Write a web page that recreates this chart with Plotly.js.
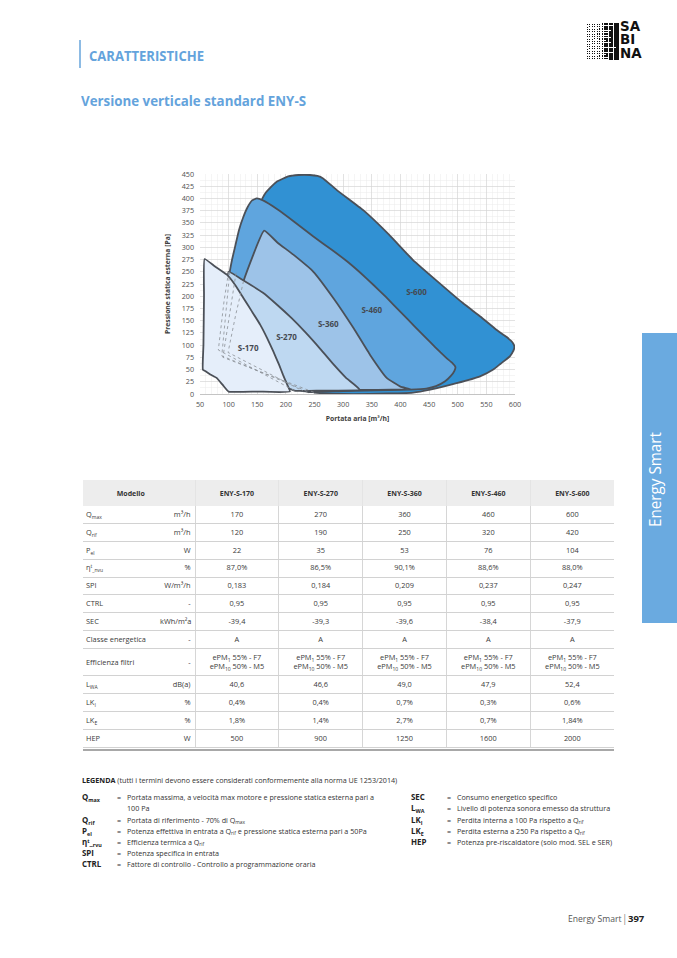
<!DOCTYPE html>
<html><head><meta charset="utf-8">
<script src="https://cdn.plot.ly/plotly-3.0.1.min.js"></script>
<style>
body{margin:0;background:#fff;}
#page{position:relative;width:677px;height:958px;overflow:hidden;font-family:'Open Sans',sans-serif;color:#333;background:#fff;}
.abs{position:absolute;white-space:nowrap;line-height:1;}
.lg{position:absolute;white-space:nowrap;line-height:11px;color:#333;}
.lg sub,#tbl sub{font-size:68%;vertical-align:-0.3em;line-height:0;}
.lg sup,#tbl sup{font-size:68%;vertical-align:0.45em;line-height:0;}
.term{font-weight:700;color:#222;}
#tbl{position:absolute;left:83px;top:480px;width:531px;border-collapse:collapse;table-layout:fixed;font-family:'Open Sans',sans-serif;font-size:7.4px;color:#3a3a3a;}
#tbl th{background:#ededed;font-weight:700;font-size:7px;color:#333;border-left:1px solid #e4e4e4;padding:0;height:26px;}
#tbl td{padding:0;border-bottom:1px solid #d2d2d2;text-align:center;line-height:1.25;}
#tbl td.v{border-left:1px solid #d6d6d6;}
#tbl td.lab{text-align:left;padding-left:3px;}
#tbl td.unit{text-align:right;padding-right:4px;}
#tbl tr.r td{height:16.9px;}
#tbl tr.tall td{height:26px;}
</style></head><body><div id="page">

<div class="abs" style="left:79px;top:40px;width:1.6px;height:28px;background:#8dbbe4;"></div>
<div class="abs hd" id="h1" data-w="115" style="left:89px;top:48px;font-size:15px;font-weight:700;color:#64a3dc;">CARATTERISTICHE</div>
<div class="abs hd" id="h2" data-w="225" style="left:81px;top:94px;font-size:14.5px;font-weight:700;color:#64a3dc;">Versione verticale standard ENY-S</div>

<div id="logo" class="abs" style="left:586px;top:20px;width:64px;height:42px;"></div>

<div class="abs" style="left:642px;top:333px;width:35px;height:290px;background:#6aaae0;"></div>
<div class="abs hd" id="side" data-w="95" style="left:647px;top:527px;font-size:16.5px;color:#fff;transform-origin:left top;">Energy Smart</div>

<div id="chart" class="abs" style="left:150px;top:160px;width:390px;height:270px;"></div>
<table id="tbl"></table>
<div class="abs" style="left:83px;top:749px;width:531px;height:2px;background:#a8a8a8;"></div>

<div id="legend"></div>

<div class="abs" style="left:568px;top:915px;font-size:8.6px;color:#555;">Energy Smart</div>
<div class="abs" style="left:622px;top:913px;font-size:10px;color:#888;">|</div>
<div class="abs" style="left:628px;top:914px;font-size:9.5px;font-weight:700;color:#222;">397</div>
</div>
<script>
// ---------- chart data ----------
const s600X = [159,165,172,185,204,222,242,255,265,290,335,380,422,465,509,540,568,585,596,599,597,591,575,562,539,498,452,422,380,300,250,160,90,100,113,135,159];
const s600Y = [400,412,421,435,445,448,448,446,441,416,376,326,274,230,186,158,131,117,105,97,88,77,62,50,36,22,9,3,1,0,3,35,75,150,248,330,400];
const s460X = [149,160,185,215,248,280,306,330,353,375,400,425,452,470,481,490,496,494,488,478,462,445,417,300,240,170,88,95,102,106,112,118,125,133,141,149];
const s460Y = [400,396,378,352,322,295,272,248,223,198,168,138,106,85,73,64,55,47,37,26,16,11,9,6,4,30,78,160,250,275,305,335,360,382,396,400];
const s360X = [162,185,213,248,283,318,347,376,400,417,300,230,99,112,126,162];
const s360Y = [334,310,285,250,196,135,80,33,15,10,8,6,85,160,231,334];
const s270X = [100,126,160,185,210,235,258,282,305,329,260,215,82,92,100];
const s270Y = [250,232,207,182,155,125,95,62,33,9,7,7,90,190,250];
const s170X = [58,75,97,112,126,140,155,167,178,188,195,202,207,150,100,90,79,68,59,55,56,57,58];
const s170Y = [276,262,244,222,196,170,142,115,87,60,39,20,5,5,5,18,33,40,47,50,100,200,276];
// hidden (dashed) boundaries
const hid270X = [100,92,82,215], hid270Y = [250,190,90,7];
const hid360X = [126,112,99,230], hid360Y = [231,160,85,6];
const hid460X = [102,95,88,240], hid460Y = [250,160,78,4];
const hid600X = [113,100,90,250], hid600Y = [248,150,75,3];
const seriesNames = ['S-600','S-460','S-360','S-270','S-170'];
const labelX = [428,350,274,201,134];
const labelY = [206,169,142,114,92];

// ---------- table data ----------
const models = ['ENY-S-170','ENY-S-270','ENY-S-360','ENY-S-460','ENY-S-600'];
const rowLabels = ['Q<sub>max</sub>','Q<sub>rif</sub>','P<sub>el</sub>','η<sup>t</sup><sub>_nvu</sub>','SPI','CTRL','SEC','Classe energetica','Efficienza filtri','L<sub>WA</sub>','LK<sub>I</sub>','LK<sub>E</sub>','HEP'];
const units = ['m³/h','m³/h','W','%','W/m³/h','-','kWh/m²a','-','-','dB(a)','%','%','W'];
const qmax = ['170','270','360','460','600'];
const qrif = ['120','190','250','320','420'];
const pel = ['22','35','53','76','104'];
const eta = ['87,0%','86,5%','90,1%','88,6%','88,0%'];
const spi = ['0,183','0,184','0,209','0,237','0,247'];
const ctrl = ['0,95','0,95','0,95','0,95','0,95'];
const sec = ['-39,4','-39,3','-39,6','-38,4','-37,9'];
const classe = ['A','A','A','A','A'];
const filtri = ['ePM<sub>1</sub> 55% - F7<br>ePM<sub>10</sub> 50% - M5','ePM<sub>1</sub> 55% - F7<br>ePM<sub>10</sub> 50% - M5','ePM<sub>1</sub> 55% - F7<br>ePM<sub>10</sub> 50% - M5','ePM<sub>1</sub> 55% - F7<br>ePM<sub>10</sub> 50% - M5','ePM<sub>1</sub> 55% - F7<br>ePM<sub>10</sub> 50% - M5'];
const lwa = ['40,6','46,6','49,0','47,9','52,4'];
const lki = ['0,4%','0,4%','0,7%','0,3%','0,6%'];
const lke = ['1,8%','1,4%','2,7%','0,7%','1,84%'];
const hep = ['500','900','1250','1600','2000'];

// ---------- legend texts ----------
const legLeft = [
 ['Q<sub>max</sub>','Portata massima, a velocità max motore e pressione statica esterna pari a'],
 ['','100 Pa'],
 ['Q<sub>rif</sub>','Portata di riferimento - 70% di Q<sub>max</sub>'],
 ['P<sub>el</sub>','Potenza effettiva in entrata a Q<sub>rif</sub> e pressione statica esterna pari a 50Pa'],
 ['η<sup>t</sup>_<sub>rvu</sub>','Efficienza termica a Q<sub>rif</sub>'],
 ['SPI','Potenza specifica in entrata'],
 ['CTRL','Fattore di controllo - Controllo a programmazione oraria']
];
const legRight = [
 ['SEC','Consumo energetico specifico'],
 ['L<sub>WA</sub>','Livello di potenza sonora emesso da struttura'],
 ['LK<sub>I</sub>','Perdita interna a 100 Pa rispetto a Q<sub>rif</sub>'],
 ['LK<sub>E</sub>','Perdita esterna a 250 Pa rispetto a Q<sub>rif</sub>'],
 ['HEP','Potenza pre-riscaldatore (solo mod. SEL e SER)']
];
const legRowsY = [798,809,821,832,843,854,865];

// ---------- chart ----------
const fills = ['#3191d3','#5fa5de','#9dc3e8','#bed8f1','#e5eefa'];
const polys = [[s600X,s600Y],[s460X,s460Y],[s360X,s360Y],[s270X,s270Y],[s170X,s170Y]];
const traces = polys.map((p,i)=>({type:'scatter',mode:'lines',x:p[0],y:p[1],fill:'toself',fillcolor:fills[i],
  line:{color:'#4b5058',width:1.8,shape:'spline',smoothing:0.35},name:seriesNames[i],hoverinfo:'skip'}));
[[hid270X,hid270Y],[hid360X,hid360Y],[hid460X,hid460Y],[hid600X,hid600Y]].forEach(h=>{
  traces.push({type:'scatter',mode:'lines',x:h[0],y:h[1],line:{color:'#8a8f96',width:0.8,dash:'dot'},hoverinfo:'skip'});
});
traces.push({type:'scatter',mode:'text',x:labelX,y:labelY,text:seriesNames,
  textfont:{family:'Open Sans',size:8,color:'#454a52',weight:700},hoverinfo:'skip'});

const axFont = {family:'Open Sans',size:7.2,color:'#505050'};
Plotly.newPlot('chart',traces,{
  width:390,height:270,margin:{l:50,r:25,t:14,b:36},
  paper_bgcolor:'rgba(0,0,0,0)',plot_bgcolor:'#fff',showlegend:false,
  xaxis:{range:[50,600],tick0:50,dtick:50,showgrid:true,gridcolor:'#d6d6d6',gridwidth:0.7,
    minor:{dtick:10,showgrid:true,gridcolor:'#ececec',gridwidth:0.5},
    zeroline:false,showline:true,linecolor:'#c4c4c4',linewidth:1,ticks:'',tickfont:axFont,fixedrange:true,ticklabelstandoff:3,
    title:{text:'<b>Portata aria [m³/h]</b>',font:{family:'Open Sans',size:6.8,color:'#404040'},standoff:8}},
  yaxis:{range:[0,450],tick0:0,dtick:25,showgrid:true,gridcolor:'#d6d6d6',gridwidth:0.7,
    minor:{dtick:12.5,showgrid:true,gridcolor:'#ececec',gridwidth:0.5},
    zeroline:false,showline:false,ticks:'',tickfont:axFont,fixedrange:true,ticklabelstandoff:5,
    title:{text:'<b>Pressione statica esterna [Pa]</b>',font:{family:'Open Sans',size:6.8,color:'#404040'},standoff:10}}
},{displayModeBar:false,staticPlot:true});

// ---------- table (built from the arrays) ----------
const valueRows = [qmax,qrif,pel,eta,spi,ctrl,sec,classe,filtri,lwa,lki,lke,hep];
const tbl = document.getElementById('tbl');
let html = '<colgroup><col style="width:77px"><col style="width:35px">'+models.map(()=>'<col style="width:83.8px">').join('')+'</colgroup>';
html += '<tr><th colspan="2" style="border-left:none;padding-right:16px;">Modello</th>'+models.map(m=>'<th>'+m+'</th>').join('')+'</tr>';
valueRows.forEach((r,i)=>{
  const cls = r===filtri ? 'tall' : 'r';
  html += '<tr class="'+cls+'"><td class="lab">'+rowLabels[i]+'</td><td class="unit">'+units[i]+'</td>'+r.map(v=>'<td class="v">'+v+'</td>').join('')+'</tr>';
});
tbl.innerHTML = html;

// ---------- legend ----------
const leg = document.getElementById('legend');
function addDiv(html,x,y,cls){
  const d=document.createElement('div');d.className='lg '+(cls||'');d.innerHTML=html;
  d.style.left=x+'px';d.style.top=(y-6)+'px';leg.appendChild(d);return d;}
const legEls=[]; let pelDesc=null;
legEls.push(addDiv('<span class="term">LEGENDA</span> (tutti i termini devono essere considerati conformemente alla norma UE 1253/2014)',82,781));
legLeft.forEach((r,i)=>{const y=legRowsY[i];
  if(r[0]){legEls.push(addDiv(r[0],82,y,'term'));legEls.push(addDiv('=',117,y));}
  const d=addDiv(r[1],127,y); legEls.push(d); if(i===3) pelDesc=d;});
legRight.forEach((r,i)=>{const y=legRowsY[i];
  legEls.push(addDiv(r[0],411,y,'term'));legEls.push(addDiv('=',447,y));
  legEls.push(addDiv(r[1],457,y));});

// ---------- logo ----------
const logo=document.getElementById('logo');
for(let c=0;c<13;c++){for(let r=0;r<15;r++){
  const s=Math.min(2.5,0.35+c*0.19);
  const d=document.createElement('div');
  d.style.cssText=`position:absolute;background:#111;left:${c*2.5+(2.5-s)/2}px;top:${3+r*2.45+(2.45-s)/2}px;width:${s}px;height:${s}px;`;
  logo.appendChild(d);}}
const logoTxt=document.createElement('div');
logoTxt.style.cssText=`position:absolute;left:34px;top:0px;font-family:'DejaVu Sans';font-weight:700;font-size:12px;line-height:11.4px;color:#111;white-space:nowrap;transform:scale(1.12,1.18);transform-origin:left top;`;
logoTxt.innerHTML='SA<br>BI<br>NA';
logo.appendChild(logoTxt);

// ---------- fit text widths ----------
function fit(){
  document.querySelectorAll('.hd').forEach(el=>{
    el.style.transform='none';
    const w=el.getBoundingClientRect().width; const t=+el.dataset.w;
    if(el.id==='side'){el.style.transform=`rotate(-90deg) scaleX(${t/w})`;}
    else{el.style.transformOrigin='left top';el.style.transform=`scaleX(${t/w})`;}
  });
  pelDesc.style.fontSize='10px';
  const w=pelDesc.getBoundingClientRect().width; const fs=Math.min(8,10*240/w);
  legEls.forEach(e=>e.style.fontSize=fs+'px');
  legEls.filter(e=>e.classList.contains('term')).forEach(e=>e.style.fontSize=(fs*1.1)+'px');
}
fit();
document.fonts.ready.then(fit);
</script>
</body></html>
